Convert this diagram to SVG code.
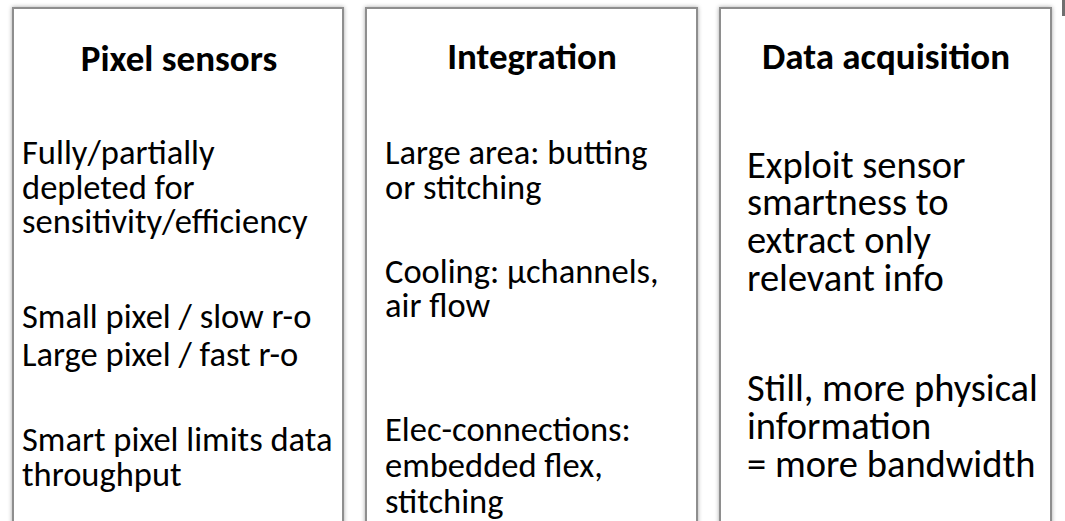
<svg xmlns="http://www.w3.org/2000/svg" width="1065" height="521" viewBox="0 0 1065 521">
<defs>
<filter id="sh" x="-5%" y="-5%" width="110%" height="110%">
<feDropShadow dx="0" dy="0" stdDeviation="2" flood-color="#000" flood-opacity="0.35"/>
</filter>
<style>
.box{fill:#fff;stroke:#8e8e8e;stroke-width:2;filter:url(#sh)}
.h{font-family:Carlito,Lato,"Open Sans",sans-serif;font-weight:bold;font-size:37px;fill:#000;text-anchor:middle}
.t{font-family:Carlito,Lato,"Open Sans",sans-serif;font-size:34.5px;fill:#000}
.t3{font-family:Carlito,Lato,"Open Sans",sans-serif;font-size:38.5px;fill:#000}
</style>
</defs>
<rect width="1065" height="521" fill="#fff"/>
<rect x="1062" y="-2" width="6" height="18" fill="#6f6f6f"/>
<g id="pixel-sensors">
<rect class="box" x="13" y="8" width="330" height="530"/>
<text class="h" x="179" y="71">Pixel sensors</text>
<text class="t" x="22" y="164">Fully/partially</text>
<text class="t" x="22" y="199">depleted for</text>
<text class="t" x="22" y="233">sensitivity/efficiency</text>
<text class="t" x="22" y="328">Small pixel / slow r-o</text>
<text class="t" x="22" y="366">Large pixel / fast r-o</text>
<text class="t" x="22" y="451">Smart pixel limits data</text>
<text class="t" x="22" y="486">throughput</text>
</g>
<g id="integration">
<rect class="box" x="366" y="8" width="331" height="530"/>
<text class="h" x="532" y="69">Integration</text>
<text class="t" x="385" y="164">Large area: butting</text>
<text class="t" x="385" y="199">or stitching</text>
<text class="t" x="385" y="283">Cooling: µchannels,</text>
<text class="t" x="385" y="317">air flow</text>
<text class="t" x="385" y="441">Elec-connections:</text>
<text class="t" x="385" y="477">embedded flex,</text>
<text class="t" x="385" y="513">stitching</text>
</g>
<g id="data-acquisition">
<rect class="box" x="720" y="8" width="331" height="530"/>
<text class="h" x="886" y="69">Data acquisition</text>
<text class="t3" x="747" y="178">Exploit sensor</text>
<text class="t3" x="747" y="215">smartness to</text>
<text class="t3" x="747" y="253">extract only</text>
<text class="t3" x="747" y="291">relevant info</text>
<text class="t3" x="747" y="401">Still, more physical</text>
<text class="t3" x="747" y="439">information</text>
<text class="t3" x="747" y="477">= more bandwidth</text>
</g>
<g id="connectors"/>
</svg>
